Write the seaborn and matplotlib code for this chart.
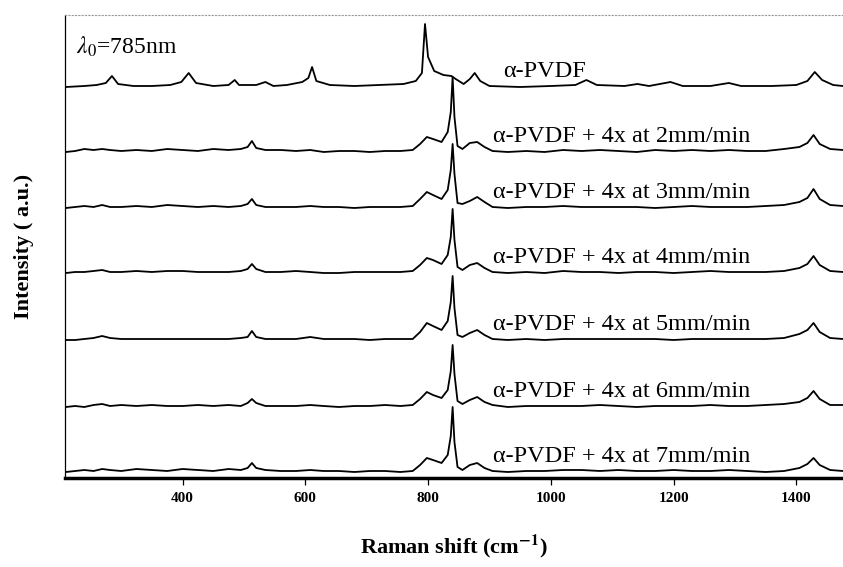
import seaborn as sns
import pandas as pd
import matplotlib.pyplot as plt

# Spectres Raman empilés (hauteur en unités arbitraires)
labels = ["α-PVDF",
          "α-PVDF + 4x at 2mm/min",
          "α-PVDF + 4x at 3mm/min",
          "α-PVDF + 4x at 4mm/min",
          "α-PVDF + 4x at 5mm/min",
          "α-PVDF + 4x at 6mm/min",
          "α-PVDF + 4x at 7mm/min"]

# décalage vertical de chaque spectre
offsets = [391, 326, 270, 205, 138, 71, 6]

# spectre alpha-PVDF pur
shift_alpha = [210, 240, 260, 275, 285, 295, 320, 350, 380, 398, 410, 422, 450, 475, 485, 492,
               520, 535, 548, 570, 595, 605, 611, 618, 640, 680, 720, 760, 780, 790, 795, 800,
               810, 825, 838, 845, 858, 868, 876, 885, 900, 950, 1000, 1040, 1058, 1075, 1120,
               1141, 1160, 1195, 1215, 1260, 1290, 1310, 1360, 1400, 1418, 1430, 1442, 1460, 1476]
int_alpha = [0, 1, 2, 4, 11, 3, 1, 1, 2, 5, 14, 4, 1, 2, 7, 2,
             2, 5, 1, 2, 5, 9, 20, 6, 2, 1, 2, 3, 6, 14, 63, 30,
             16, 12, 11, 8, 3, 8, 14, 6, 1, 0, 1, 2, 7, 2, 1,
             3, 1, 5, 1, 1, 4, 1, 1, 2, 6, 15, 7, 2, 1]

# spectres étirés (même grille de nombres d'onde)
shift_drawn = [210, 225, 240, 255, 269, 282, 300, 325, 350, 375,
               400, 425, 450, 475, 495, 506, 513, 520, 535, 560,
               585, 608, 630, 655, 680, 705, 730, 755, 775, 787,
               798, 808, 822, 832, 837, 840, 843, 848, 856, 868,
               880, 892, 905, 930, 960, 990, 1020, 1050, 1080, 1110,
               1140, 1170, 1200, 1230, 1260, 1290, 1320, 1350, 1380, 1405,
               1418, 1428, 1438, 1455, 1476]
int_2mm = [0, 1, 3, 2, 3, 2, 1, 2, 1, 3,
           2, 1, 3, 2, 3, 5, 11, 4, 2, 2,
           1, 2, 0, 1, 1, 0, 1, 1, 2, 8,
           15, 13, 10, 20, 40, 75, 35, 6, 3, 9,
           10, 5, 1, 0, 1, 0, 2, 1, 2, 1,
           0, 2, 1, 2, 1, 2, 1, 1, 3, 5,
           9, 17, 8, 3, 2]
int_3mm = [0, 1, 2, 1, 3, 1, 1, 2, 1, 3,
           2, 1, 2, 1, 2, 4, 9, 3, 1, 1,
           1, 2, 1, 1, 0, 1, 1, 1, 2, 9,
           16, 13, 9, 18, 38, 64, 34, 5, 4, 7,
           11, 6, 1, 0, 1, 1, 2, 1, 1, 1,
           1, 0, 1, 2, 1, 1, 1, 2, 3, 6,
           10, 19, 9, 3, 2]
int_4mm = [0, 1, 1, 2, 3, 1, 1, 2, 1, 2,
           2, 1, 1, 1, 2, 4, 9, 4, 1, 1,
           2, 1, 0, 0, 1, 1, 1, 1, 2, 8,
           15, 13, 9, 18, 36, 64, 33, 6, 3, 8,
           10, 5, 1, 0, 1, 0, 2, 1, 1, 0,
           1, 1, 0, 1, 2, 1, 1, 1, 2, 5,
           9, 17, 8, 2, 1]
int_5mm = [0, 0, 1, 2, 4, 2, 1, 1, 1, 1,
           1, 1, 1, 1, 2, 3, 9, 3, 1, 1,
           1, 3, 1, 1, 1, 0, 1, 1, 1, 8,
           17, 14, 10, 19, 38, 64, 32, 5, 3, 7,
           10, 5, 1, 0, 1, 0, 1, 1, 1, 1,
           1, 1, 0, 1, 1, 1, 1, 1, 2, 6,
           10, 17, 8, 2, 1]
int_6mm = [0, 1, 0, 2, 3, 1, 2, 1, 2, 1,
           1, 2, 1, 2, 1, 4, 8, 4, 1, 1,
           1, 2, 1, 0, 1, 1, 2, 1, 2, 8,
           15, 12, 9, 17, 36, 62, 33, 6, 3, 7,
           10, 5, 2, 0, 1, 1, 1, 1, 2, 1,
           0, 1, 1, 1, 2, 1, 1, 2, 3, 5,
           9, 16, 8, 2, 2]
int_7mm = [0, 1, 2, 1, 3, 2, 1, 3, 2, 1,
           3, 2, 1, 3, 2, 4, 9, 4, 2, 1,
           1, 2, 1, 1, 0, 1, 1, 0, 1, 7,
           14, 12, 9, 17, 36, 65, 30, 5, 2, 7,
           9, 4, 1, 0, 1, 1, 2, 2, 1, 2,
           1, 1, 2, 1, 1, 2, 1, 0, 1, 4,
           8, 14, 7, 2, 1]

spectra = [(shift_alpha, int_alpha), (shift_drawn, int_2mm), (shift_drawn, int_3mm),
           (shift_drawn, int_4mm), (shift_drawn, int_5mm), (shift_drawn, int_6mm),
           (shift_drawn, int_7mm)]

rows = []
for i, (xs, ys) in enumerate(spectra):
    for x, y in zip(xs, ys):
        rows.append({"shift": x, "intensity": y + offsets[i], "spectre": i})
df = pd.DataFrame(rows)

sns.set_theme(style="white")
plt.rcParams["font.family"] = ["Liberation Serif", "DejaVu Serif"]
plt.rcParams["mathtext.fontset"] = "stix"

fig = plt.figure(figsize=(8.43, 5.67), dpi=100)
ax = fig.add_axes([65 / 843, 89 / 567, 778 / 843, 463 / 567])

sns.lineplot(data=df, x="shift", y="intensity", units="spectre", estimator=None,
             color="black", linewidth=1.3, sort=False, ax=ax)

for i, lab in enumerate(labels):
    xt = 922 if i == 0 else 906
    ax.text(xt, offsets[i] + 10, lab, fontsize=17.5, color="black", va="baseline")

ax.text(226, 443, r"$\lambda_0$=785nm", fontsize=17, color="black", va="top")

ax.set_xlim(208.5, 1476)
ax.set_ylim(0, 463)
ax.set_xticks([400, 600, 800, 1000, 1200, 1400])
ax.set_yticks([])
ax.tick_params(axis="x", direction="out", length=5, width=0.9, pad=5,
               labelsize=11, bottom=True, colors="black")
for t in ax.get_xticklabels():
    t.set_fontweight("bold")

ax.set_xlabel(r"Raman shift (cm$^{\mathbf{-1}}$)", fontsize=16, fontweight="bold",
              labelpad=20, color="black")
ax.set_ylabel("Intensity ( a.u.)", fontsize=16, fontweight="bold", labelpad=22, color="black")

ax.spines["bottom"].set_linewidth(2.5)
ax.spines["bottom"].set_color("black")
ax.spines["left"].set_linewidth(0.9)
ax.spines["left"].set_color("black")
ax.spines["top"].set_linestyle((0, (1, 2)))
ax.spines["top"].set_color("#999999")
ax.spines["top"].set_linewidth(0.8)
ax.spines["right"].set_visible(False)

fig.savefig("out.png", dpi=100)
